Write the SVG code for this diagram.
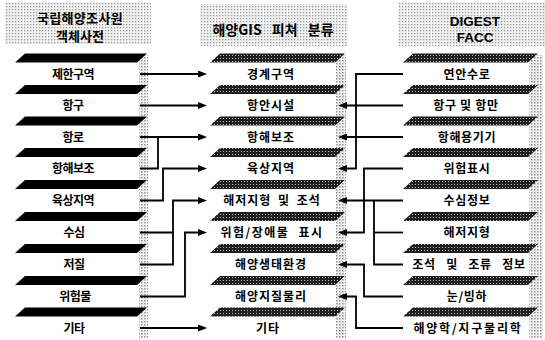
<svg xmlns="http://www.w3.org/2000/svg" width="545" height="340" viewBox="0 0 545 340">
<defs>
<pattern id="hdr" width="3" height="3" patternUnits="userSpaceOnUse">
<rect width="3" height="3" fill="#f2f2f2"/>
<rect x="0" y="0" width="1.3" height="1.3" fill="#9a9a9a"/>
</pattern>
<pattern id="ht" width="3" height="3" patternUnits="userSpaceOnUse">
<rect width="3" height="3" fill="#1e1e1e"/>
<rect x="1" y="1" width="1" height="1" fill="#bdbdbd"/>
</pattern>
<pattern id="sh" width="3" height="3" patternUnits="userSpaceOnUse">
<rect width="3" height="3" fill="#ffffff"/>
<rect x="0" y="0" width="1.5" height="1.5" fill="#8c8c8c"/>
<rect x="1.5" y="1.5" width="1" height="1" fill="#bbbbbb"/>
</pattern>
<marker id="ah" viewBox="0 0 9 7" refX="2" refY="3.5" markerWidth="9" markerHeight="7" markerUnits="userSpaceOnUse" orient="auto">
<path d="M0,0 L9,3.5 L0,7 Z" fill="#000"/>
</marker>
<style>
.t{font-family:"Noto Sans CJK KR","Liberation Sans",sans-serif;font-weight:bold;font-size:12px;fill:#000;text-anchor:middle}
.h{font-family:"Noto Sans CJK KR","Liberation Sans",sans-serif;font-weight:bold;font-size:13px;fill:#000;text-anchor:middle}
.hl{font-family:"Liberation Sans",sans-serif;font-weight:bold;font-size:13.5px;fill:#000;text-anchor:middle}
.l{letter-spacing:-0.5px}
.m{letter-spacing:1px}
.r{letter-spacing:0.7px}
.bl{fill:#000}
.bh{fill:url(#ht)}
.c{fill:none;stroke:#000;stroke-width:1.8}
</style>
</defs>
<rect width="545" height="340" fill="#fff"/>

<g id="headers">
<rect x="5" y="2" width="146" height="42" fill="url(#hdr)"/>
<rect x="200" y="4" width="148" height="42" fill="url(#hdr)"/>
<rect x="398" y="2" width="147" height="44" fill="url(#hdr)"/>
<text class="h" x="80" y="23" style="letter-spacing:0.3px">국립해양조사원</text>
<text class="h" x="80" y="41">객체사전</text>
<text class="h" x="273" y="35" style="font-size:14px;word-spacing:7px">해양GIS 피쳐 분류</text>
<text class="hl" x="475" y="26">DIGEST</text>
<text class="hl" x="475" y="42">FACC</text>
</g>

<g id="shadows">
<rect x="139" y="55" width="9" height="284" fill="url(#sh)"/>
<rect x="336" y="55" width="10" height="284" fill="url(#sh)"/>
<rect x="529" y="55" width="14" height="284" fill="url(#sh)"/>
</g>

<g id="bars-left" class="bl">
<polygon points="15,62.5 25,53.5 147,53.5 137,62.5"/>
<polygon points="15,94 25,85 147,85 137,94"/>
<polygon points="15,125.5 25,116.5 147,116.5 137,125.5"/>
<polygon points="15,157 25,148 147,148 137,157"/>
<polygon points="15,189 25,180 147,180 137,189"/>
<polygon points="15,221 25,212 147,212 137,221"/>
<polygon points="15,253 25,244 147,244 137,253"/>
<polygon points="15,285 25,276 147,276 137,285"/>
<polygon points="15,316.5 25,307.5 147,307.5 137,316.5"/>
</g>
<g id="bars-mid" class="bh">
<polygon points="210,62.5 220,53.5 345,53.5 335,62.5"/>
<polygon points="210,94 220,85 345,85 335,94"/>
<polygon points="210,125.5 220,116.5 345,116.5 335,125.5"/>
<polygon points="210,157 220,148 345,148 335,157"/>
<polygon points="210,189 220,180 345,180 335,189"/>
<polygon points="210,221 220,212 345,212 335,221"/>
<polygon points="210,253 220,244 345,244 335,253"/>
<polygon points="210,285 220,276 345,276 335,285"/>
<polygon points="210,316.5 220,307.5 345,307.5 335,316.5"/>
</g>
<g id="bars-right" class="bh">
<polygon points="403,62.5 413,53.5 538,53.5 528,62.5"/>
<polygon points="403,94 413,85 538,85 528,94"/>
<polygon points="403,125.5 413,116.5 538,116.5 528,125.5"/>
<polygon points="403,157 413,148 538,148 528,157"/>
<polygon points="403,189 413,180 538,180 528,189"/>
<polygon points="403,221 413,212 538,212 528,221"/>
<polygon points="403,253 413,244 538,244 528,253"/>
<polygon points="403,285 413,276 538,276 528,285"/>
<polygon points="403,316.5 413,307.5 538,307.5 528,316.5"/>
</g>

<g id="n-left">
<g id="L1"><text class="t l" x="73" y="78.5">제한구역</text></g>
<g id="L2"><text class="t l" x="73" y="110">항구</text></g>
<g id="L3"><text class="t l" x="73" y="141.5">항로</text></g>
<g id="L4"><text class="t l" x="73" y="173">항해보조</text></g>
<g id="L5"><text class="t l" x="73" y="205">육상지역</text></g>
<g id="L6"><text class="t l" x="74" y="237">수심</text></g>
<g id="L7"><text class="t l" x="74" y="269">저질</text></g>
<g id="L8"><text class="t l" x="75" y="301">위험물</text></g>
<g id="L9"><text class="t l" x="74" y="332.5">기타</text></g>
</g>

<g id="n-mid">
<g id="M1"><text class="t m" x="271" y="78.5">경계구역</text></g>
<g id="M2"><text class="t m" x="271" y="110">항안시설</text></g>
<g id="M3"><text class="t m" x="271" y="141.5">항해보조</text></g>
<g id="M4"><text class="t m" x="271" y="173">육상지역</text></g>
<g id="M5"><text class="t m" x="272" y="205" style="word-spacing:3px">해저지형 및 조석</text></g>
<g id="M6"><text class="t" x="272" y="237" style="letter-spacing:1.5px;word-spacing:5px">위험/장애물 표시</text></g>
<g id="M7"><text class="t m" x="271" y="269">해양생태환경</text></g>
<g id="M8"><text class="t m" x="271" y="301">해양지질물리</text></g>
<g id="M9"><text class="t m" x="268" y="332.5">기타</text></g>
</g>

<g id="n-right">
<g id="R1"><text class="t r" x="467" y="78.5">연안수로</text></g>
<g id="R2"><text class="t r" x="466" y="110">항구 및 항만</text></g>
<g id="R3"><text class="t r" x="467" y="141.5">항해용기기</text></g>
<g id="R4"><text class="t r" x="467" y="173">위험표시</text></g>
<g id="R5"><text class="t r" x="467" y="205">수심정보</text></g>
<g id="R6"><text class="t r" x="467" y="237">해저지형</text></g>
<g id="R7"><text class="t r" x="469" y="269" style="word-spacing:7px">조석 및 조류 정보</text></g>
<g id="R8"><text class="t r" x="467" y="301">눈/빙하</text></g>
<g id="R9"><text class="t" x="468" y="332.5" style="letter-spacing:1.8px">해양학/지구물리학</text></g>
</g>

<g id="connectors" class="c">
<path d="M140,74 H200" marker-end="url(#ah)"/>
<path d="M140,105.5 H200" marker-end="url(#ah)"/>
<path d="M140,137 H200" marker-end="url(#ah)"/>
<path d="M140,168.5 H158 V137"/>
<path d="M140,200.5 H163 V168.5 H200" marker-end="url(#ah)"/>
<path d="M140,232.5 H173"/>
<path d="M140,264.5 H173 V200.5 H200" marker-end="url(#ah)"/>
<path d="M140,296.5 H185 V232.5 H200" marker-end="url(#ah)"/>
<path d="M140,328 H200" marker-end="url(#ah)"/>

<path d="M403,74 H356 V168.5 H345" marker-end="url(#ah)"/>
<path d="M403,105.5 H345" marker-end="url(#ah)"/>
<path d="M403,137 H345" marker-end="url(#ah)"/>
<path d="M403,168.5 H364 V232.5 H345" marker-end="url(#ah)"/>
<path d="M403,200.5 H345" marker-end="url(#ah)"/>
<path d="M403,232.5 H374"/>
<path d="M403,264.5 H374 V200.5"/>
<path d="M403,296.5 H364 V264.5 H345" marker-end="url(#ah)"/>
<path d="M403,328 H356 V296.5 H345" marker-end="url(#ah)"/>
</g>
</svg>
